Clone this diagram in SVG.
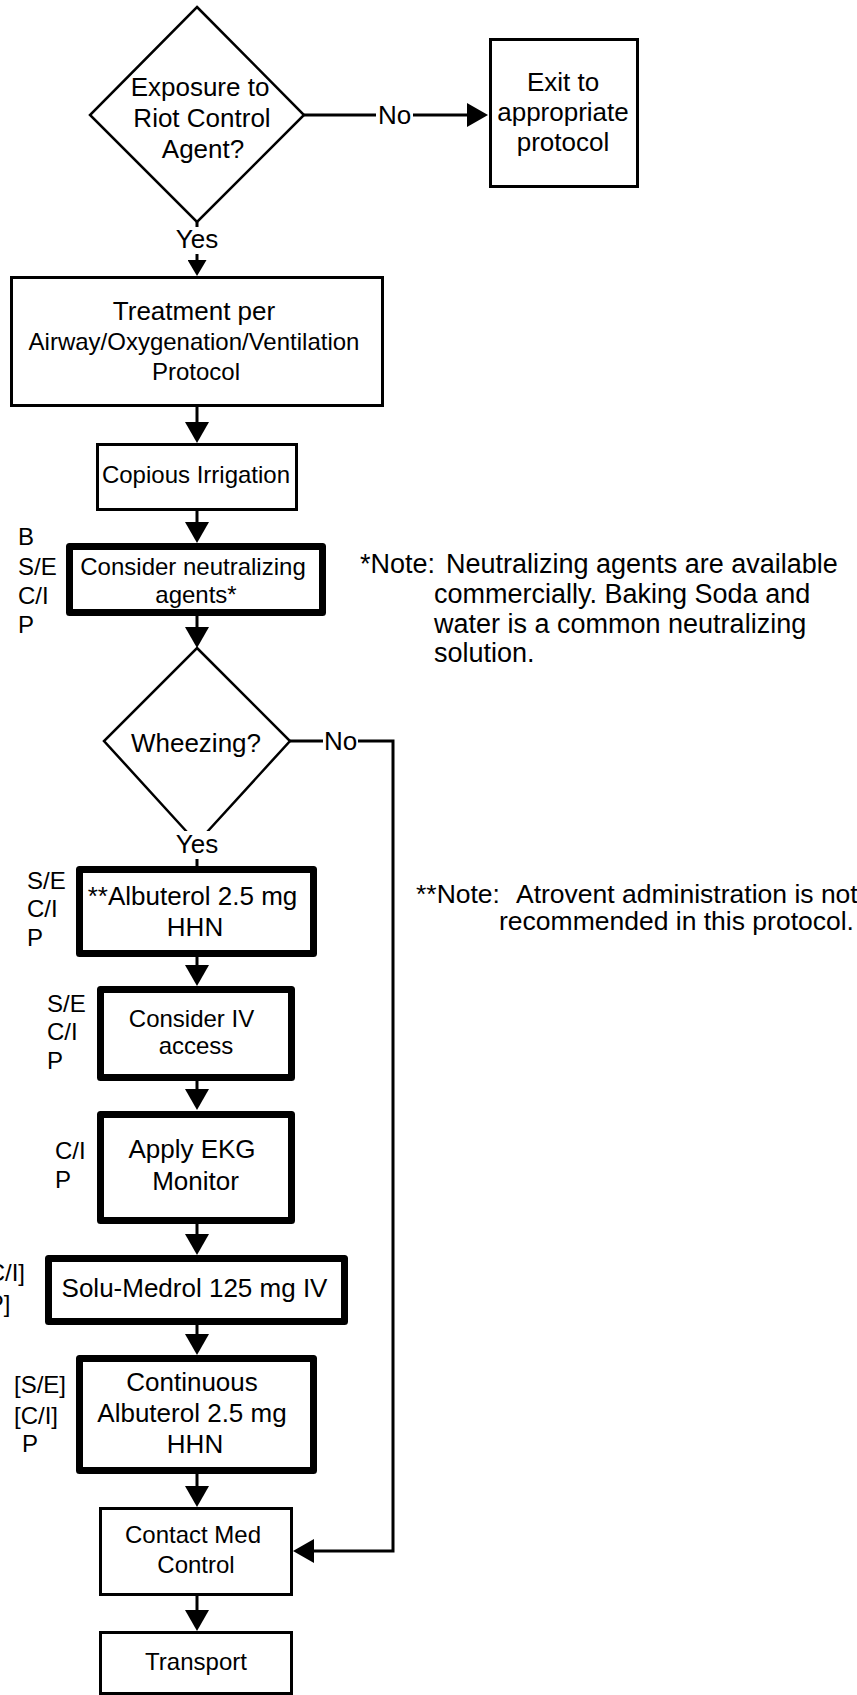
<svg xmlns="http://www.w3.org/2000/svg" width="857" height="1695" viewBox="0 0 857 1695">
<style>
text { font-family: "Liberation Sans", Arial, sans-serif; fill: #000; }
.f26 { font-size: 26px; }
.f24 { font-size: 24px; }
.n1 { font-size: 27px; }
.n2 { font-size: 26.5px; }
.c { text-anchor: middle; }
.box { fill: #fff; stroke: #000; stroke-width: 3; }
.thick { fill: #fff; stroke: #000; stroke-width: 7; stroke-linejoin: round; }
.dia { fill: #fff; stroke: #000; stroke-width: 2.5; }
.conn { fill: none; stroke: #000; stroke-width: 3; }
.lbg { fill: #fff; }
</style>
<defs>
<marker id="arr" viewBox="0 0 21 24" refX="0" refY="12" markerWidth="21" markerHeight="24" orient="auto" markerUnits="userSpaceOnUse">
<path d="M0,0 L21,12 L0,24 Z" fill="#000"/>
</marker>
<marker id="arrS" viewBox="0 0 16 19" refX="0" refY="9.5" markerWidth="16" markerHeight="19" orient="auto" markerUnits="userSpaceOnUse">
<path d="M0,0 L16,9.5 L0,19 Z" fill="#000"/>
</marker>
</defs>
<rect width="857" height="1695" fill="#fff"/>

<g id="connectors">
<path class="conn" d="M304,115 H467" marker-end="url(#arr)"/>
<path class="conn" d="M197,222 V260" marker-end="url(#arrS)"/>
<path class="conn" d="M197,407 V422" marker-end="url(#arr)"/>
<path class="conn" d="M197,511 V522" marker-end="url(#arr)"/>
<path class="conn" d="M197,616 V627" marker-end="url(#arr)"/>
<path class="conn" d="M197,838 V866"/>
<path class="conn" d="M197,957 V965" marker-end="url(#arr)"/>
<path class="conn" d="M197,1081 V1089" marker-end="url(#arr)"/>
<path class="conn" d="M197,1224 V1234" marker-end="url(#arr)"/>
<path class="conn" d="M197,1325 V1334" marker-end="url(#arr)"/>
<path class="conn" d="M197,1474 V1486" marker-end="url(#arr)"/>
<path class="conn" d="M197,1596 V1610" marker-end="url(#arr)"/>
<path class="conn" d="M290,741 H393 V1551 H314" marker-end="url(#arr)"/>
</g>

<g id="exposure">
<polygon class="dia" points="197,7 304,115 197,222 90,115"/>
<text class="f26 c" x="200" y="96">Exposure to</text>
<text class="f26 c" x="202" y="127">Riot Control</text>
<text class="f26 c" x="203" y="158">Agent?</text>
</g>

<g id="exit">
<rect class="box" x="490.5" y="39.5" width="147" height="147"/>
<text class="f26 c" x="563" y="91">Exit to</text>
<text class="f26 c" x="563" y="121">appropriate</text>
<text class="f26 c" x="563" y="151">protocol</text>
</g>

<g id="treatment">
<rect class="box" x="11.5" y="277.5" width="371" height="128"/>
<text class="f26 c" x="194" y="320">Treatment per</text>
<text class="f24 c" x="194" y="350">Airway/Oxygenation/Ventilation</text>
<text class="f24 c" x="196" y="380">Protocol</text>
</g>

<g id="irrigation">
<rect class="box" x="97.5" y="444.5" width="199" height="65"/>
<text class="f24 c" x="196" y="483">Copious Irrigation</text>
</g>

<g id="neutralizing">
<rect class="thick" x="69.5" y="546.5" width="253" height="66"/>
<text class="f24 c" x="193" y="575">Consider neutralizing</text>
<text class="f24 c" x="196" y="603">agents*</text>
<text class="f24" x="18" y="545">B</text>
<text class="f24" x="18" y="575">S/E</text>
<text class="f24" x="18" y="604">C/I</text>
<text class="f24" x="18" y="633">P</text>
</g>

<g id="note1">
<text class="n1" x="360" y="573">*Note:</text>
<text class="n1" x="446" y="573">Neutralizing agents are available</text>
<text class="n1" x="434" y="603">commercially. Baking Soda and</text>
<text class="n1" x="434" y="633">water is a common neutralizing</text>
<text class="n1" x="434" y="662">solution.</text>
</g>

<g id="wheezing">
<polygon class="dia" points="197,648 290,741 197,843 104,741"/>
<text class="f26 c" x="196" y="752">Wheezing?</text>
</g>

<g id="albuterol">
<rect class="thick" x="79.5" y="869.5" width="234" height="84"/>
<text class="f26 c" x="192.5" y="905">**Albuterol 2.5 mg</text>
<text class="f26 c" x="195" y="936">HHN</text>
<text class="f24" x="27" y="889">S/E</text>
<text class="f24" x="27" y="917">C/I</text>
<text class="f24" x="27" y="946">P</text>
</g>

<g id="note2">
<text class="n2" x="416" y="903">**Note:</text>
<text class="n2" x="516" y="903">Atrovent administration is not</text>
<text class="n2" x="499" y="930">recommended in this protocol.</text>
</g>

<g id="iv">
<rect class="thick" x="100.5" y="989.5" width="191" height="88"/>
<text class="f24 c" x="191.5" y="1027">Consider IV</text>
<text class="f24 c" x="196" y="1054">access</text>
<text class="f24" x="47" y="1012">S/E</text>
<text class="f24" x="47" y="1040">C/I</text>
<text class="f24" x="47" y="1069">P</text>
</g>

<g id="ekg">
<rect class="thick" x="100.5" y="1114.5" width="191" height="106"/>
<text class="f26 c" x="192" y="1158">Apply EKG</text>
<text class="f26 c" x="195.5" y="1190">Monitor</text>
<text class="f24" x="55" y="1159">C/I</text>
<text class="f24" x="55" y="1188">P</text>
</g>

<g id="solumedrol">
<rect class="thick" x="48.5" y="1258.5" width="296" height="63"/>
<text class="f26 c" x="194.5" y="1297">Solu-Medrol 125 mg IV</text>
<text class="f24" x="-19" y="1281">[C/I]</text>
<text class="f24" x="-19" y="1312">[P]</text>
</g>

<g id="continuous">
<rect class="thick" x="79.5" y="1358.5" width="234" height="112"/>
<text class="f26 c" x="192" y="1391">Continuous</text>
<text class="f26 c" x="192" y="1422">Albuterol 2.5 mg</text>
<text class="f26 c" x="195" y="1453">HHN</text>
<text class="f24" x="14" y="1393">[S/E]</text>
<text class="f24" x="14" y="1424">[C/I]</text>
<text class="f24" x="22" y="1452">P</text>
</g>

<g id="contact">
<rect class="box" x="100.5" y="1508.5" width="191" height="86"/>
<text class="f24 c" x="193" y="1543">Contact Med</text>
<text class="f24 c" x="196" y="1573">Control</text>
</g>

<g id="transport">
<rect class="box" x="100.5" y="1632.5" width="191" height="61"/>
<text class="f24 c" x="196" y="1670">Transport</text>
</g>

<g id="connector-labels">
<rect class="lbg" x="376" y="101" width="37" height="27"/>
<text class="f26 c" x="394.5" y="124">No</text>
<rect class="lbg" x="178" y="227" width="38" height="27"/>
<text class="f26 c" x="197" y="248">Yes</text>
<rect class="lbg" x="323" y="727" width="35" height="27"/>
<text class="f26 c" x="340.5" y="750">No</text>
<rect class="lbg" x="177" y="831" width="40" height="28"/>
<text class="f26 c" x="197" y="853">Yes</text>
</g>
</svg>
